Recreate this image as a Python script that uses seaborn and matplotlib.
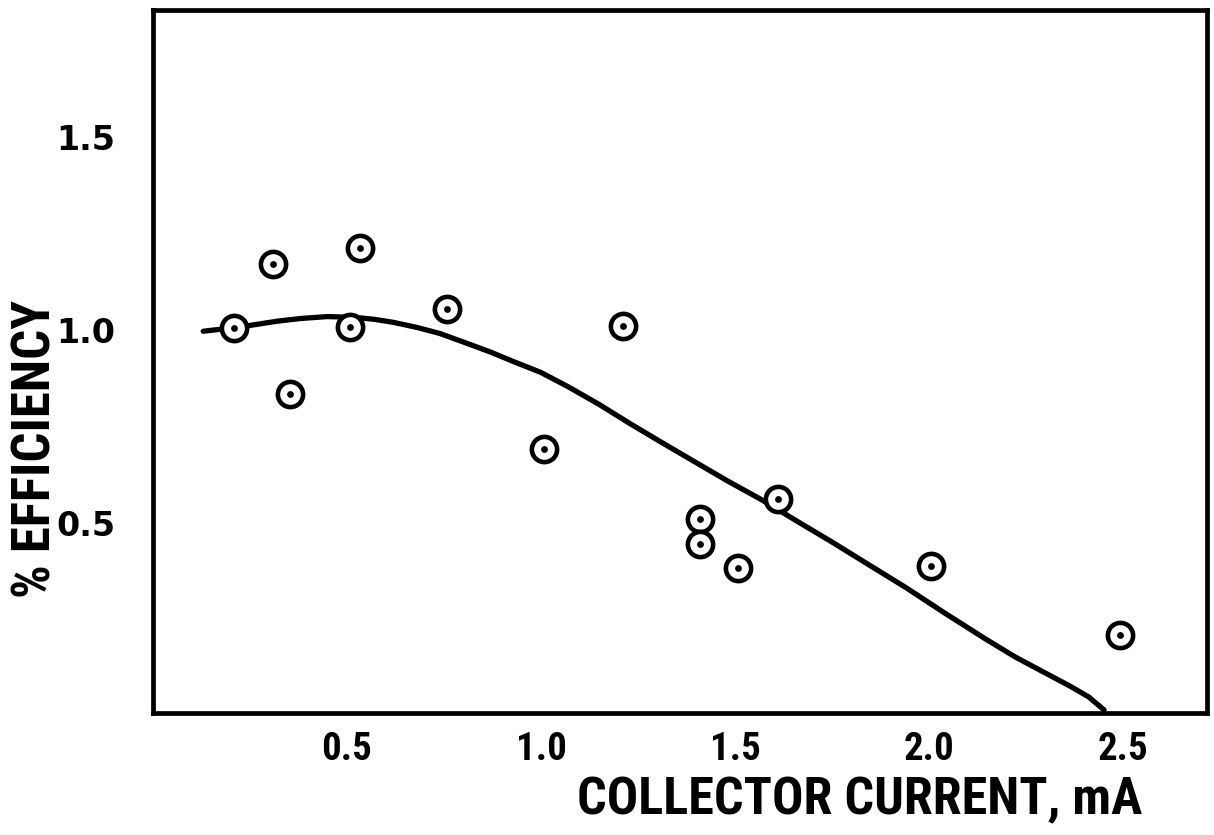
import matplotlib
matplotlib.use("Agg")
import matplotlib.pyplot as plt
from matplotlib import font_manager as fm
import seaborn as sns
import pandas as pd

# Measured points: collector current (mA) vs. % efficiency
current_ma = [0.21, 0.31, 0.354, 0.507, 0.534, 0.758, 1.007, 1.211,
              1.409, 1.409, 1.507, 1.611, 2.004, 2.491]
efficiency = [1.005, 1.172, 0.835, 1.008, 1.213, 1.054, 0.691, 1.01,
              0.509, 0.444, 0.383, 0.561, 0.389, 0.209]

# Hand-faired trend curve
curve_x = [0.13, 0.19, 0.25, 0.32, 0.38, 0.45, 0.52, 0.57, 0.62, 0.68,
           0.74, 0.80, 0.87, 0.93, 1.0, 1.07, 1.15, 1.23, 1.31, 1.40,
           1.48, 1.57, 1.66, 1.75, 1.84, 1.94, 2.04, 2.14, 2.22, 2.30,
           2.36, 2.41, 2.45]
curve_y = [0.997, 1.004, 1.012, 1.023, 1.030, 1.035, 1.033, 1.028, 1.020,
           1.007, 0.991, 0.969, 0.943, 0.918, 0.890, 0.853, 0.807, 0.757,
           0.709, 0.656, 0.609, 0.559, 0.504, 0.450, 0.394, 0.332, 0.266,
           0.202, 0.153, 0.110, 0.078, 0.049, 0.015]

x_ticks = [0.5, 1.0, 1.5, 2.0, 2.5]
y_ticks = [0.5, 1.0, 1.5]

points = pd.DataFrame({"current": current_ma, "eff": efficiency})
curve = pd.DataFrame({"current": curve_x, "eff": curve_y})

sns.set_theme(style="white")
plt.rcParams["font.family"] = ["DejaVu Sans"]


def narrow_family():
    """Pick a condensed bold sans face if one is installed."""
    faces = fm.fontManager.ttflist
    names = {f.name for f in faces}
    for name in ["Liberation Sans Narrow", "Roboto Condensed",
                 "Open Sans Condensed", "Noto Sans Condensed",
                 "DejaVu Sans Condensed", "Arial Narrow"]:
        if name in names:
            return name, "normal"
    for f in faces:
        if f.name in ("DejaVu Sans", "Noto Sans", "Open Sans", "Roboto") and \
                str(f.stretch) in ("condensed", "semi-condensed", "500", "600"):
            return f.name, "condensed"
    return "DejaVu Sans", "normal"


narrow, stretch = narrow_family()

fig = plt.figure(figsize=(12.14, 8.35), dpi=100)
ax = fig.add_axes([0.1258, 0.1461, 0.9942 - 0.1258, 0.988 - 0.1461])

sns.lineplot(data=curve, x="current", y="eff", ax=ax, sort=False,
             estimator=None, color="black", linewidth=3.8,
             solid_capstyle="round", solid_joinstyle="round", zorder=2)

# open circle with a centre dot
sns.scatterplot(data=points, x="current", y="eff", ax=ax, s=330,
                marker="o", facecolor="white", edgecolor="black",
                linewidth=3.3, zorder=3)
sns.scatterplot(data=points, x="current", y="eff", ax=ax, s=24,
                marker="o", color="black", linewidth=0, zorder=4)

ax.set_xlim(0, 2.715)
ax.set_ylim(0.007, 1.83)
ax.set_xticks(x_ticks)
ax.set_yticks(y_ticks)
ax.set_xticklabels([f"{v:.1f}" for v in x_ticks],
                   fontsize=28, fontweight="bold",
                   family=[narrow, "DejaVu Sans"], fontstretch=stretch)
ax.set_yticklabels([f"{v:.1f}" for v in y_ticks],
                   fontsize=24, fontweight="bold",
                   family=["DejaVu Sans"])

ax.tick_params(axis="both", direction="in", length=8, width=3,
               color="black", labelcolor="black")
ax.tick_params(axis="x", pad=13)
ax.tick_params(axis="y", pad=27)

for spine in ax.spines.values():
    spine.set_visible(True)
    spine.set_color("black")
    spine.set_linewidth(3.4)

xlab = ax.set_xlabel("COLLECTOR CURRENT, mA", fontsize=38,
                     fontweight="bold", color="black",
                     family=[narrow, "DejaVu Sans"], fontstretch=stretch)
ylab = ax.set_ylabel("% EFFICIENCY", fontsize=35, fontweight="bold",
                     color="black",
                     family=[narrow, "DejaVu Sans"], fontstretch=stretch)

# size the axis titles to their printed extents (564 px wide, 298 px tall)
fig.canvas.draw()
renderer = fig.canvas.get_renderer()
w = xlab.get_window_extent(renderer).width
xlab.set_fontsize(38 * 564.0 / w)
h = ylab.get_window_extent(renderer).height
ylab.set_fontsize(35 * 298.0 / h)

ax.xaxis.set_label_coords(0.671, -0.124)
xlab.set_va("center")
ax.yaxis.set_label_coords(-0.111, 0.375)
ylab.set_va("center")

fig.savefig("out.png", dpi=100, facecolor="white")
